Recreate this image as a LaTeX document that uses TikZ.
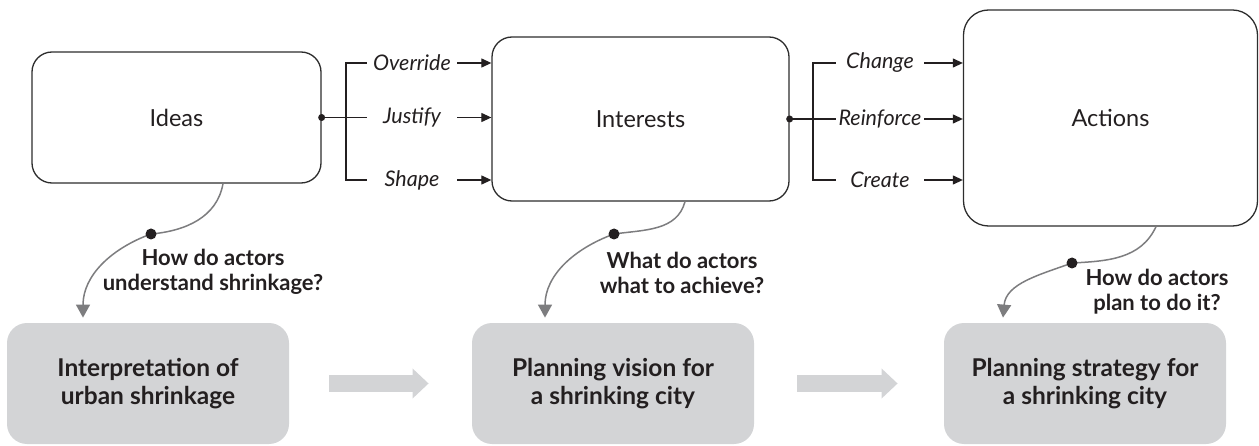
\documentclass[tikz,border=0pt]{standalone}
\usepackage{fontspec}
\setmainfont{Lato}
\usepackage{tikz}
\usetikzlibrary{arrows.meta,
                calc,
                positioning}
\definecolor{boxline}{RGB}{45,45,45}
\definecolor{inkdark}{RGB}{35,31,32}
\definecolor{panelgrey}{RGB}{211,212,214}
\definecolor{curvegrey}{RGB}{125,125,127}

\begin{document}
\begin{tikzpicture}[
				x=1pt, y=1pt,
				thick,
				main box/.style={draw=boxline,line width=1.3pt,rounded corners=20pt,inner sep=0pt,text=inkdark,font=\fontsize{23.5}{27}\selectfont},
				plan box/.style={fill=panelgrey,rounded corners=20pt,inner sep=0pt,minimum width=282pt,minimum height=121pt,align=center,text=inkdark,font=\fontsize{24.5}{28}\selectfont\bfseries},
				verb/.style={inner sep=0pt,minimum width=90pt,text=inkdark,font=\fontsize{21.5}{24}\selectfont\itshape},
				bracket/.style={draw=inkdark,line width=1.2pt},
				push/.style={bracket,-{Triangle[length=10pt,width=9pt]}},
				ask/.style={draw=curvegrey,line width=1.5pt,-{Triangle[length=13pt,width=14pt]}},
				ask dot/.style={circle,fill=inkdark,minimum size=11pt,inner sep=0pt},
				ask text/.style={align=center,text=inkdark,font=\fontsize{22}{25}\selectfont\bfseries},
				flow/.style={draw=panelgrey,line width=17pt,-{Triangle[length=16pt,width=29pt]}}
				]
				\useasboundingbox (0,0) rectangle (1259,445);
				% top row
				\node[main box,minimum width=289pt,minimum height=131pt] (ideas) at (176.5,327.5) {Ideas};
				\node[main box,minimum width=297pt,minimum height=164pt] (interests) at (640.5,326) {Interests};
				\node[main box,minimum width=294pt,minimum height=216pt,rounded corners=25pt] (actions) at (1110.5,327) {Actions};
				% bottom row
				\node[plan box] (interp) at (148,61.5) {Interpretation of\\urban shrinkage};
				\node[plan box] (vision) at (613,61.5) {Planning vision for\\a shrinking city};
				\node[plan box] (strategy) at (1085,61.5) {Planning strategy for\\a shrinking city};
				\draw[flow,shorten <=40pt,shorten >=43pt] (interp) -- (vision);
				\draw[flow,shorten <=43pt,shorten >=46pt] (vision) -- (strategy);
				% ideas -> interests
				\node[verb] (override) at (412,382) {Override};
				\node[verb] (justify) at (412,327.5) {Justify};
				\node[verb] (shape) at (412,265) {Shape};
				\coordinate (lbar) at (346,327.5);
				\draw[bracket] (override.west) -| (lbar |- shape.west) -- (shape.west);
				\draw[bracket] (ideas.east) -- (justify.west);
				\fill[inkdark] (ideas.east) circle (3.5pt);
				\draw[push] (override.east) -- (override.east -| interests.west);
				\draw[push] (justify.east) -- (justify.east -| interests.west);
				\draw[push] (shape.east) -- (shape.east -| interests.west);
				% interests -> actions
				\node[verb,minimum width=88pt] (change) at (880,382) {Change};
				\node[verb,minimum width=88pt] (reinforce) at (880,326) {Reinforce};
				\node[verb,minimum width=88pt] (create) at (880,265) {Create};
				\coordinate (rbar) at (813,326);
				\draw[bracket] (change.west) -| (rbar |- create.west) -- (create.west);
				\draw[bracket] (interests.east) -- (reinforce.west);
				\fill[inkdark] (interests.east) circle (3.5pt);
				\draw[push] (change.east) -- (change.east -| actions.west);
				\draw[push] (reinforce.east) -- (reinforce.east -| actions.west);
				\draw[push] (create.east) -- (create.east -| actions.west);
				% questions
				\coordinate (q1) at (151,211);
				\coordinate (q2) at (614,211);
				\coordinate (q3) at (1072,182);
				\draw[ask] ([xshift=46.5pt]ideas.south) to[out=-100,in=5] (q1) to[out=200,in=90] ([xshift=-65pt,yshift=5pt]interp.north);
				\draw[ask] ([xshift=44.5pt]interests.south) to[out=-105,in=8] (q2) to[out=200,in=90] ([xshift=-68pt,yshift=5pt]vision.north);
				\draw[ask] ([xshift=45.5pt]actions.south) to[out=-115,in=3] (q3) to[out=200,in=85] ([xshift=-82pt,yshift=5pt]strategy.north);
				\node[ask dot] (q1dot) at (q1) {};
				\node[ask dot] (q2dot) at (q2) {};
				\node[ask dot] (q3dot) at (q3) {};
				\node[ask text] (q1text) at (213,173) {How do actors\\understand shrinkage?};
				\node[ask text] (q2text) at (682,172) {What do actors\\what to achieve?};
				\node[ask text] (q3text) at (1157,153) {How do actors\\plan to do it?};
		\end{tikzpicture}
\end{document}
